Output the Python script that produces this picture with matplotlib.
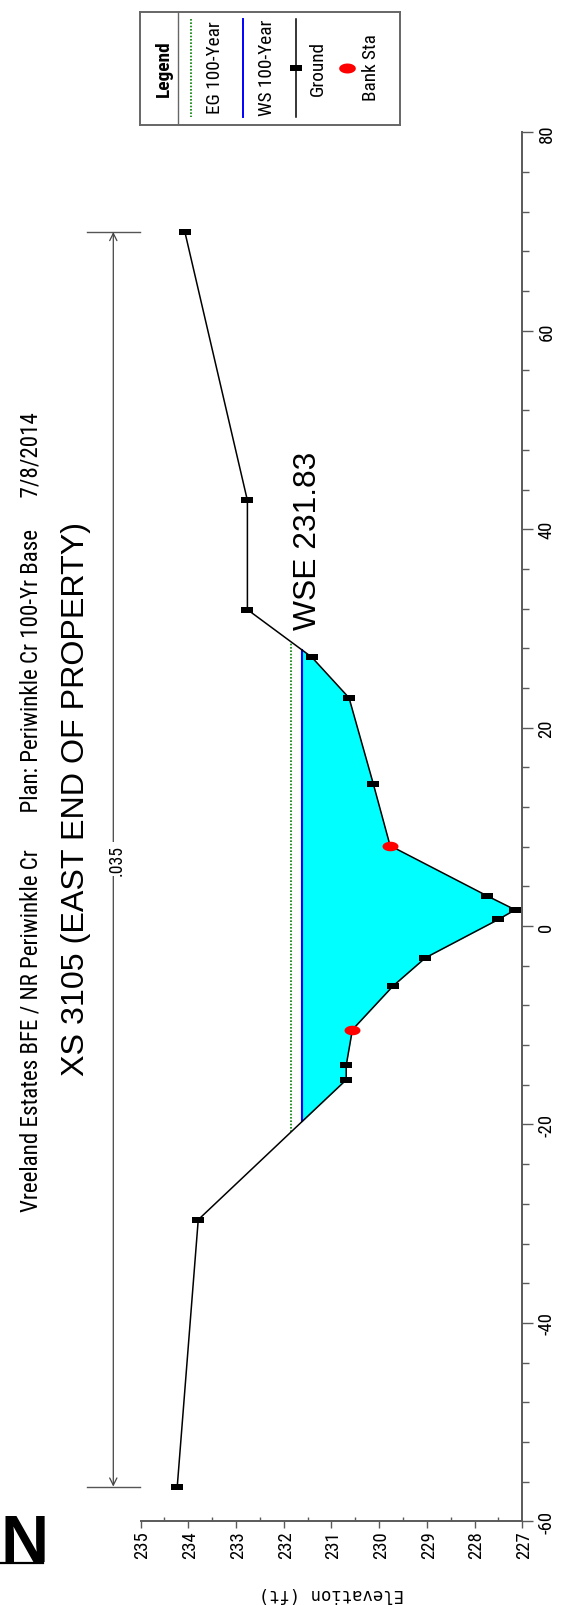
import os
import numpy as np
import matplotlib
matplotlib.use("Agg")
import matplotlib.pyplot as plt
from matplotlib.path import Path
from matplotlib.lines import Line2D
from matplotlib.ticker import MultipleLocator
from matplotlib import font_manager
from matplotlib.font_manager import FontProperties

# Datos de la seccion (estacion en ft, elevacion en ft)
ground_sta = [-56.5, -29.6, -15.5, -14.05, -10.45, -6.05, -3.2, 0.67, 1.64, 3.05,
              8.1, 14.3, 23.0, 27.1, 31.9, 42.9, 69.96]
ground_elev = [234.23, 233.79, 230.69, 230.69, 230.56, 229.71, 229.03, 227.50,
               227.15, 227.74, 229.77, 230.12, 230.63, 231.41, 232.76, 232.76, 234.07]
bank_sta = [-10.45, 8.1]
bank_elev = [230.56, 229.77]
ws_elev = 231.61
eg_elev = 231.84
n_value = ".035"
n_line_elev = 235.57

title1 = "Vreeland Estates BFE / NR Periwinkle Cr       Plan: Periwinkle Cr 100-Yr Base      7/8/2014"
title2 = "XS 3105 (EAST END OF PROPERTY)"
wse_label = "WSE 231.83"
wse_label_pos = (231.32, 29.9)
legend_labels = ["EG 100-Year", "WS 100-Year", "Ground", "Bank Sta"]

avail = {f.name for f in font_manager.fontManager.ttflist}
SANS = "Liberation Sans" if "Liberation Sans" in avail else "DejaVu Sans"


def find_font(keys):
    for k in keys:
        for f in font_manager.fontManager.ttflist:
            if os.path.basename(f.fname).lower() == k:
                return f.fname
    return None


narrow_file = find_font(["liberationsansnarrow-regular.ttf", "robotocondensed-regular.ttf",
                         "dejavusanscondensed.ttf", "opensans_condensed-regular.ttf",
                         "opensans-condensedregular.ttf", "notosans-condensed.ttf"])
narrow_bold = find_font(["liberationsansnarrow-bold.ttf", "robotocondensed-bold.ttf",
                         "dejavusanscondensed-bold.ttf", "opensans_condensed-bold.ttf"])
NARROW = FontProperties(fname=narrow_file) if narrow_file else FontProperties(family=SANS)
NARROW_B = (FontProperties(fname=narrow_bold) if narrow_bold
            else FontProperties(family=SANS, weight="bold"))
plt.rcParams["axes.unicode_minus"] = False

W, H = 565, 1606
fig = plt.figure(figsize=(W / 100, H / 100), dpi=100)
renderer = fig.canvas.get_renderer()


def box(x0, y0, x1, y1):
    return [x0 / W, 1 - y1 / H, (x1 - x0) / W, (y1 - y0) / H]


def fit(txt, length_px, vertical=True):
    # ajusta el tamano para que el texto tenga el largo visto
    for _ in range(2):
        bb = txt.get_window_extent(renderer)
        cur = bb.height if vertical else bb.width
        txt.set_fontsize(txt.get_fontsize() * length_px / cur)


def crossings(sta, elev, level):
    out = []
    for i in range(len(sta) - 1):
        a, b = elev[i] - level, elev[i + 1] - level
        if a * b < 0:
            out.append(sta[i] + (level - elev[i]) / (elev[i + 1] - elev[i]) * (sta[i + 1] - sta[i]))
    return min(out), max(out)


rect = Path([(-1, -0.55), (1, -0.55), (1, 0.55), (-1, 0.55), (-1, -0.55)], closed=True)
t = np.linspace(0, 2 * np.pi, 41)
oval = Path(np.column_stack([np.cos(t), 0.6 * np.sin(t)]), closed=True)

gs = np.array(ground_sta)
ge = np.array(ground_elev)

ax = fig.add_axes(box(140.5, 133.4, 522.3, 1522.3))
ax.set_xlim(235, 227)
ax.set_ylim(-60, 80)

# agua
ax.fill_betweenx(gs, ge, ws_elev, where=ge < ws_elev, interpolate=True,
                 color="#00ffff", lw=0, zorder=1)
s0, s1 = crossings(gs, ge, eg_elev)
ax.plot([eg_elev, eg_elev], [s0, s1], color="#008000", lw=1.2, ls=(0, (1, 1)), zorder=2)
s0, s1 = crossings(gs, ge, ws_elev)
ax.plot([ws_elev, ws_elev], [s0, s1], color="#0000ff", lw=1.5, zorder=3)

# terreno
ax.plot(ge, gs, color="black", lw=1.1, zorder=4)
mask = ~np.isin(gs, bank_sta)
ax.plot(ge[mask], gs[mask], ls="none", marker=rect, ms=8, color="black", mew=0, zorder=5)
ax.plot(bank_elev, bank_sta, ls="none", marker=oval, ms=11.5, color="red", mew=0, zorder=6)

# linea de n de Manning
sa, sb = ground_sta[0], ground_sta[-1]
smid = (sa + sb) / 2
for s in (sa, sb):
    ax.plot([236.12, 235.01], [s, s], color="#555555", lw=1, clip_on=False)
    ax.annotate("", xy=(n_line_elev, s), xytext=(n_line_elev, smid),
                arrowprops=dict(arrowstyle="->", color="#444444", lw=0.9,
                                shrinkA=0, shrinkB=0, mutation_scale=13),
                annotation_clip=False)
nt = ax.text(235.49, smid, n_value, rotation=90, ha="center", va="center",
             fontproperties=NARROW, fontsize=13, clip_on=False,
             bbox=dict(facecolor="white", edgecolor="none", pad=1))
fit(nt, 31)

wt = ax.text(wse_label_pos[0], wse_label_pos[1], wse_label, rotation=90,
             rotation_mode="anchor", ha="left", va="baseline", fontsize=23, family=SANS)
fit(wt, 178)

# ejes
for side in ("top", "left"):
    ax.spines[side].set_visible(False)
for side in ("bottom", "right"):
    ax.spines[side].set_color("#5a5a5a")
    ax.spines[side].set_linewidth(1.4)
ax.yaxis.tick_right()
ax.xaxis.set_major_locator(MultipleLocator(1))
ax.xaxis.set_minor_locator(MultipleLocator(0.5))
ax.yaxis.set_major_locator(MultipleLocator(20))
ax.yaxis.set_minor_locator(MultipleLocator(4))
ax.tick_params(axis="x", which="major", direction="out", length=5.3, width=1, color="#5a5a5a",
               labelrotation=90, pad=1.2)
ax.tick_params(axis="x", which="minor", direction="in", length=2.9, width=1, color="#5a5a5a")
ax.tick_params(axis="y", which="major", direction="out", length=7.7, width=1, color="#5a5a5a",
               labelrotation=90, pad=3.2)
ax.tick_params(axis="y", which="minor", direction="out", length=4.8, width=1, color="#5a5a5a")
tick_size = 13.5 if narrow_file else 12
for lab in ax.get_xticklabels() + ax.get_yticklabels():
    lab.set_fontproperties(NARROW)
    lab.set_fontsize(tick_size)
for lab in ax.get_xticklabels():
    lab.set_rotation_mode("anchor")
    lab.set_ha("right")
    lab.set_va("center_baseline")
for lab in ax.get_yticklabels():
    lab.set_rotation_mode("anchor")
    lab.set_ha("center")
    lab.set_va("top")

# textos
t1 = fig.text(38 / W, 1 - 812 / H, title1, rotation=90, rotation_mode="anchor",
              ha="center", va="baseline", fontproperties=NARROW, fontsize=17)
fit(t1, 800)
t2 = fig.text(84 / W, 1 - 799 / H, title2, rotation=90, rotation_mode="anchor",
              ha="center", va="baseline", fontsize=23, family=SANS)
fit(t2, 555)
et = fig.text(331.5 / W, 1 - 1594 / H, "Elevation (ft)", rotation=180, ha="center",
              va="center", fontsize=12, family="DejaVu Sans Mono")
fit(et, 145, vertical=False)
fig.text(0.5 / W, 1 - 1561.7 / H, "N", fontsize=48, fontweight="bold", family=SANS,
         ha="left", va="baseline")
fig.add_artist(Line2D([0, 43 / W], [1 - 1563.5 / H] * 2, color="black", lw=1.6,
                      transform=fig.transFigure))

# leyenda
L0, L1 = 140.0, 400.0
lax = fig.add_axes(box(L0, 12.7, L1, 125.5))
lax.set_xlim(L0, L1)
lax.set_ylim(125.5, 12.7)
lax.set_xticks([])
lax.set_yticks([])
for sp in lax.spines.values():
    sp.set_color("#666666")
    sp.set_linewidth(1.4)
ht = lax.text(164, 69, "Legend", rotation=90, ha="center", va="center",
              fontproperties=NARROW_B, fontsize=13)
lax.axvline(178, color="#666666", lw=1)
lax.plot([191, 191], [20, 118], color="#008000", lw=1.2, ls=(0, (1, 1)))
lax.plot([243.3, 243.3], [20, 118], color="#0000ff", lw=1.4)
lax.plot([296, 296], [20, 118], color="black", lw=1.1)
lax.plot([296], [69], ls="none", marker=rect, ms=8, color="black", mew=0)
lax.plot([346.7], [69.3], ls="none", marker=oval, ms=12, color="red", mew=0)
ltexts = []
for xc, lab in zip([215, 266.7, 318, 371], legend_labels):
    ltexts.append(lax.text(xc, 68, lab, rotation=90, ha="center", va="center",
                           fontproperties=NARROW, fontsize=13))
fit(ltexts[0], 93)
for lt in ltexts[1:] + [ht]:
    lt.set_fontsize(ltexts[0].get_fontsize())

fig.savefig("out.png", dpi=100)
